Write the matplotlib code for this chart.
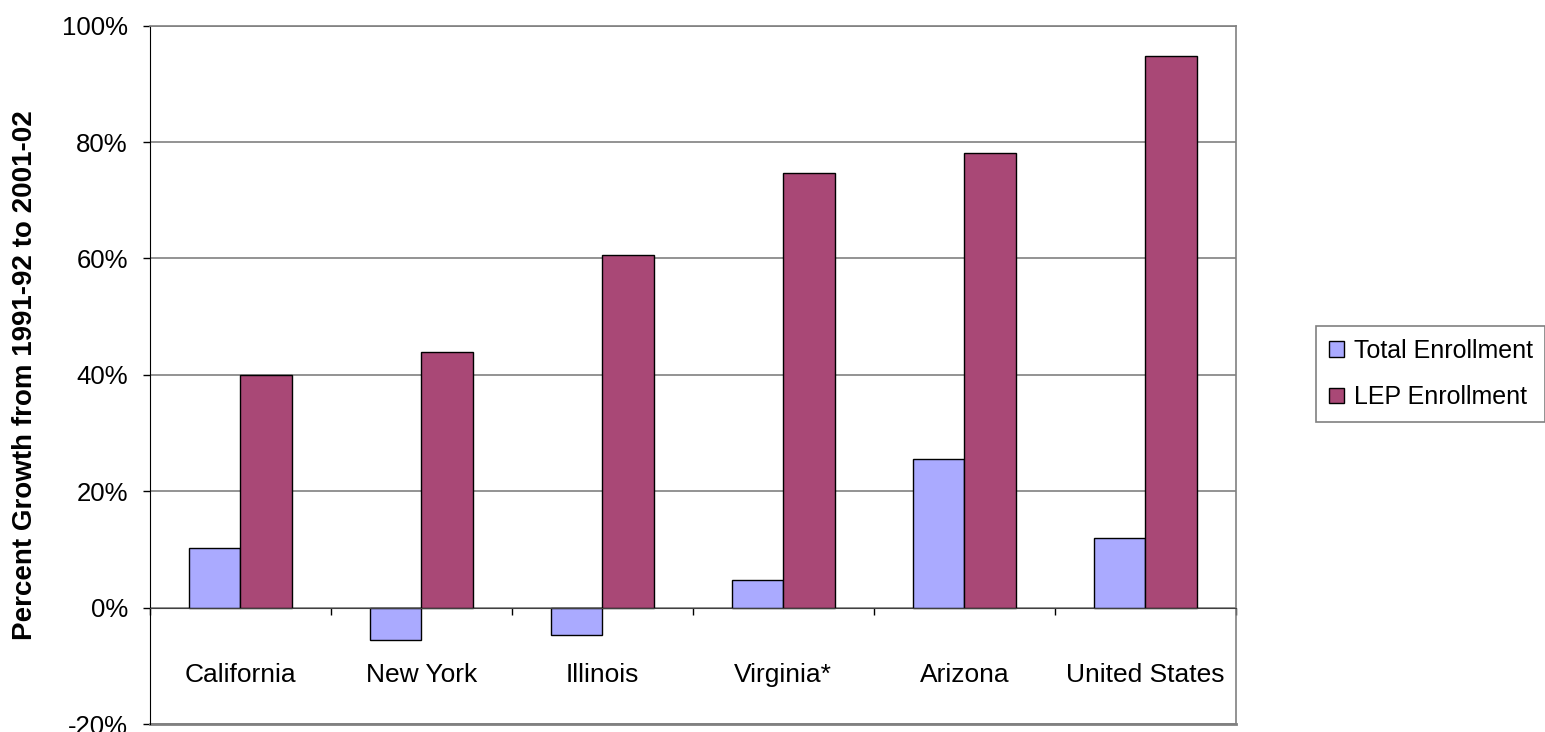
import numpy as np
import matplotlib.pyplot as plt
from matplotlib.ticker import FixedLocator, PercentFormatter

plt.rcParams['font.family'] = ['Liberation Sans', 'DejaVu Sans']
plt.rcParams['axes.unicode_minus'] = False

states = ['California', 'New York', 'Illinois', 'Virginia*', 'Arizona', 'United States']
total_enrollment = [10.2, -5.5, -4.7, 4.7, 25.6, 11.9]
lep_enrollment = [40.0, 44.0, 60.6, 74.7, 78.2, 94.8]
series_names = ['Total Enrollment', 'LEP Enrollment']
y_ticks = [-20, 0, 20, 40, 60, 80, 100]

fig = plt.figure(figsize=(15.45, 7.32), dpi=100)
ax = fig.add_axes([0.0971, 0.0109, 0.7027, 0.954])

x = np.arange(len(states))
w = 1 / 3.5
ax.bar(x - w / 2, total_enrollment, w, color='#AAAAFF', edgecolor='black',
       linewidth=1, label=series_names[0], zorder=3)
ax.bar(x + w / 2, lep_enrollment, w, color='#A94876', edgecolor='black',
       linewidth=1, label=series_names[1], zorder=3)

ax.set_xlim(-0.5, len(states) - 0.5)
ax.set_ylim(-20, 100)
ax.set_yticks(y_ticks)
ax.yaxis.set_major_formatter(PercentFormatter(decimals=0))
ax.grid(axis='y', color='#808080', linewidth=1.2, zorder=0)
ax.tick_params(axis='y', direction='out', length=5, width=1, pad=11, labelsize=18.5)

# category axis sits on the 0% line
ax.spines['bottom'].set_position(('data', 0))
ax.spines['bottom'].set_color('#404040')
ax.spines['bottom'].set_zorder(4)
ax.set_xticks(x)
ax.set_xticklabels(states)
ax.xaxis.set_minor_locator(FixedLocator(np.arange(len(states) + 1) - 0.5))
ax.tick_params(axis='x', which='major', length=0, pad=40, labelsize=19)
ax.tick_params(axis='x', which='minor', direction='out', length=5, width=1)
ax.axhline(-20, color='#808080', linewidth=2, clip_on=False)
for s in ['top', 'right']:
    ax.spines[s].set_color('#808080')
    ax.spines[s].set_linewidth(1.2)
ax.spines['left'].set_color('black')

ax.set_ylabel('Percent Growth from 1991-92 to 2001-02', fontsize=20,
              fontweight='bold')
ax.yaxis.set_label_coords(-0.103, 0.5)

leg = fig.legend(loc='center left', bbox_to_anchor=(0.852, 0.489), fontsize=18,
                 fancybox=False, edgecolor='#808080', framealpha=1,
                 handlelength=0.6, handleheight=0.6, handletextpad=0.4,
                 labelspacing=0.9, borderpad=0.5, borderaxespad=0)
leg.get_frame().set_linewidth(1.2)

fig.savefig('out.png', dpi=100)
